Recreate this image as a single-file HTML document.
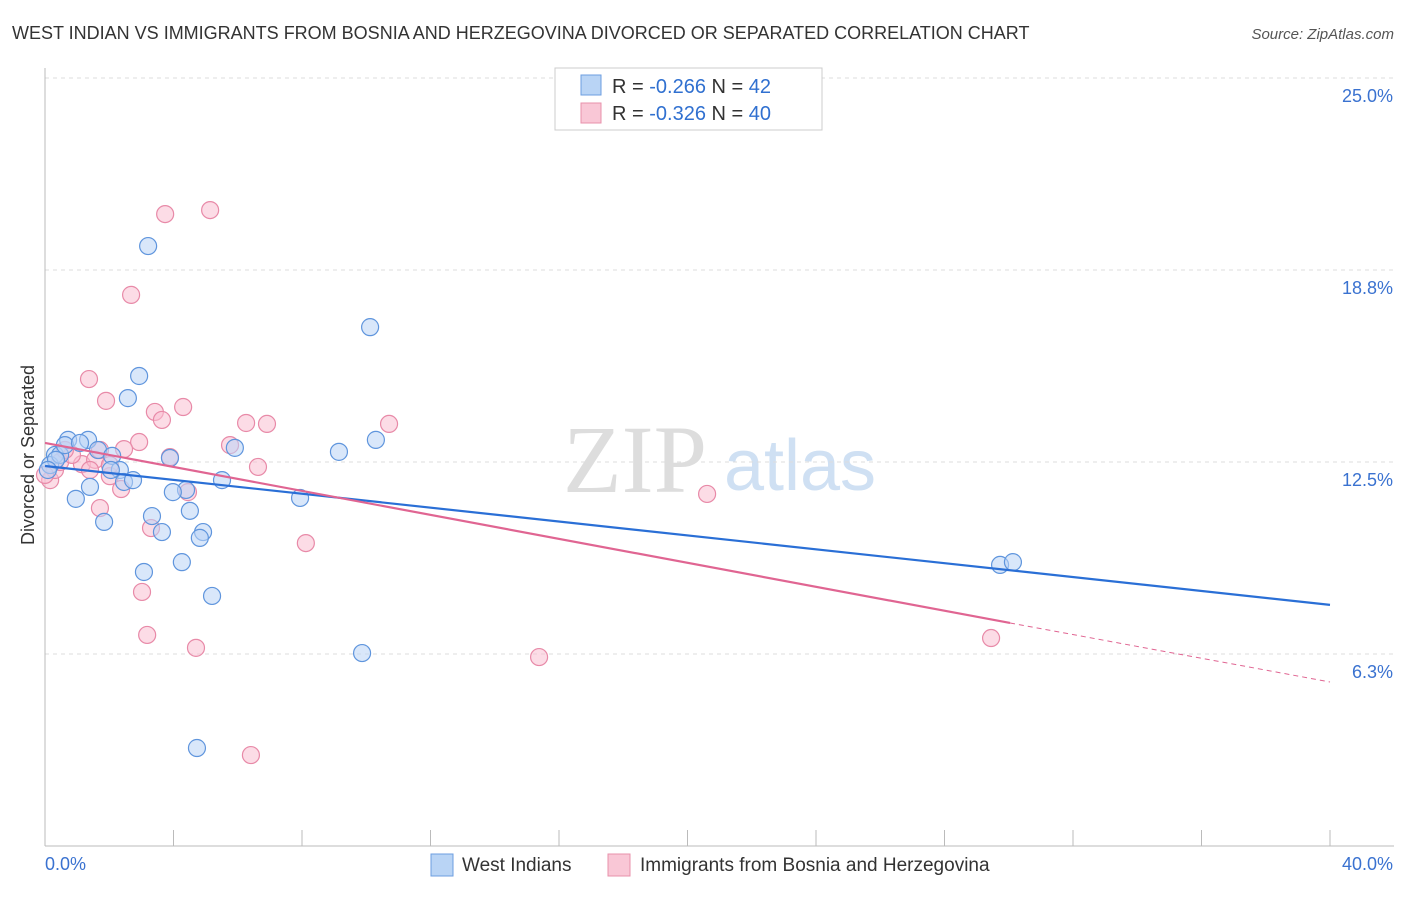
<!DOCTYPE html>
<html><head><meta charset="utf-8"><style>
body{margin:0;background:#fff;font-family:"Liberation Sans",sans-serif;}
</style></head><body>
<svg width="1406" height="892" xmlns="http://www.w3.org/2000/svg" id="svg" font-family="Liberation Sans, sans-serif">
<text x="12" y="39" font-size="18" fill="#333">WEST INDIAN VS IMMIGRANTS FROM BOSNIA AND HERZEGOVINA DIVORCED OR SEPARATED CORRELATION CHART</text>
<text x="1394" y="39" font-size="15" fill="#555" font-style="italic" text-anchor="end">Source: ZipAtlas.com</text>
<text x="635" y="492" font-size="96" fill="#ddd" font-family="Liberation Serif, serif" text-anchor="middle">ZIP</text>
<text x="800" y="490" font-size="72" fill="#cfe0f3" text-anchor="middle">atlas</text>
<g id="grid"></g><g id="axes"></g><g id="pts"></g><g id="lines"></g>
<text transform="translate(34,455) rotate(-90)" font-size="18" fill="#333" text-anchor="middle">Divorced or Separated</text>
<g>
<rect x="555" y="68" width="267" height="62" fill="#fff" stroke="#ccc"/>
<rect x="581" y="75" width="20" height="20" fill="#b9d4f5" stroke="#6c9ee0"/>
<rect x="581" y="103" width="20" height="20" fill="#f9c7d6" stroke="#e890ab"/>
<text x="612" y="93" font-size="20" fill="#333">R = <tspan fill="#3070d0">-0.266</tspan>   N = <tspan fill="#3070d0">42</tspan></text>
<text x="612" y="120" font-size="20" fill="#333">R = <tspan fill="#3070d0">-0.326</tspan>   N = <tspan fill="#3070d0">40</tspan></text>
</g>
<g>
<rect x="431" y="854" width="22" height="22" fill="#b9d4f5" stroke="#6c9ee0"/>
<text x="462" y="871" font-size="19" fill="#333">West Indians</text>
<rect x="608" y="854" width="22" height="22" fill="#f9c7d6" stroke="#e890ab"/>
<text x="640" y="871" font-size="19" fill="#333">Immigrants from Bosnia and Herzegovina</text>
</g>
</svg>
<script>
const yTicks=[6.25,12.5,18.75,25];
const yTickLabels=["6.3%","12.5%","18.8%","25.0%"];
const xTickLabels=["0.0%","40.0%"];
const blueX=[3.21,10.12,2.93,2.58,10.30,9.15,5.91,0.72,1.34,1.65,0.31,2.09,2.33,2.05,1.40,0.96,2.46,2.74,3.89,4.39,3.98,5.51,7.94,1.84,3.33,3.64,4.51,4.92,4.82,3.08,4.26,5.20,9.87,4.73,29.73,30.13,0.16,0.47,0.62,0.34,1.09,0.09];
const blueY=[19.53,16.89,15.30,14.58,13.22,12.83,12.96,13.22,13.22,12.89,12.73,12.70,12.24,12.24,11.69,11.30,11.85,11.91,12.63,11.59,11.52,11.91,11.33,10.55,10.74,10.22,10.91,10.22,10.03,8.92,9.24,8.14,6.28,3.19,9.15,9.24,12.40,12.73,13.05,12.57,13.12,12.24];
const pinkX=[3.74,5.14,2.68,1.37,1.90,3.42,4.30,3.64,6.26,6.91,10.71,2.93,2.46,5.76,3.89,6.63,1.15,1.56,2.02,1.71,2.37,4.45,1.71,3.30,8.12,3.02,3.18,4.70,6.41,15.38,20.61,29.45,0.16,0.31,0.47,0.84,1.40,2.02,0.0,0.62];
const pinkY=[20.57,20.70,17.94,15.20,14.49,14.13,14.29,13.87,13.77,13.74,13.74,13.15,12.92,13.05,12.66,12.34,12.43,12.57,12.04,12.89,11.62,11.52,11.00,10.35,9.86,8.27,6.87,6.45,2.96,6.15,11.46,6.77,11.91,12.24,12.50,12.73,12.24,12.40,12.08,12.89];
const blueTrend=[[0,12.37],[40,7.85]];
const pinkTrend=[[0,13.12],[30.04,7.26]];
const pinkDash=[[30.04,7.26],[40,5.34]];
const X=v=>45+v*32.125, Y=v=>846-v*30.72;
const NS="http://www.w3.org/2000/svg";
function mk(t,a,p){const e=document.createElementNS(NS,t);for(const k in a)e.setAttribute(k,a[k]);p.appendChild(e);return e;}
const grid=document.getElementById('grid'),axes=document.getElementById('axes'),pts=document.getElementById('pts'),lines=document.getElementById('lines');
yTicks.forEach((t,i)=>{
 const l=mk('line',{x1:45,x2:1394,y1:Y(t),y2:Y(t),stroke:'#ddd','stroke-dasharray':'4,4'},grid);
 
 
 const tx=mk('text',{x:1393,y:Y(t)+24,'font-size':18,fill:'#3a72d0','text-anchor':'end'},axes);
 tx.textContent=yTickLabels[i];
 
 
});
const ya=mk('line',{x1:45,x2:45,y1:68,y2:846,stroke:'#bbb'},axes);


const xa=mk('line',{x1:45,x2:1394,y1:846,y2:846,stroke:'#bbb'},axes);


for(let i=0;i<=10;i++){const v=i*4;
 const t=mk('line',{x1:X(v),x2:X(v),y1:830,y2:846,stroke:'#bbb'},axes);
 
 }
[[0,'start',45],[40,'end',1393]].forEach((d,i)=>{
 const tx=mk('text',{x:d[2],y:870,'font-size':18,fill:'#3a72d0','text-anchor':d[1]},axes);
 tx.textContent=xTickLabels[i];
 
 });
function dots(xs,ys,f,s,n){xs.forEach((x,i)=>{
 const c=mk('circle',{cx:X(x),cy:Y(ys[i]),r:8.5,fill:f,'fill-opacity':0.55,stroke:s,'stroke-width':1.2},pts);
 
 });}
dots(pinkX,pinkY,'#f9c0d2','#e88aa8','point-bosnia');
dots(blueX,blueY,'#b9d4f5','#5f95dd','point-west-indian');
function ln(a,col,w,dash,n){const l=mk('line',{x1:X(a[0][0]),y1:Y(a[0][1]),x2:X(a[1][0]),y2:Y(a[1][1]),stroke:col,'stroke-width':w},lines);
 if(dash)l.setAttribute('stroke-dasharray',dash);
 
 }
ln(blueTrend,'#2a6fd6',2.2,null,'trend-west-indian');
ln(pinkTrend,'#e06592',2.2,null,'trend-bosnia');
ln(pinkDash,'#e06592',1,'5,4','trend-bosnia-extrapolated');
</script>
</body></html>
